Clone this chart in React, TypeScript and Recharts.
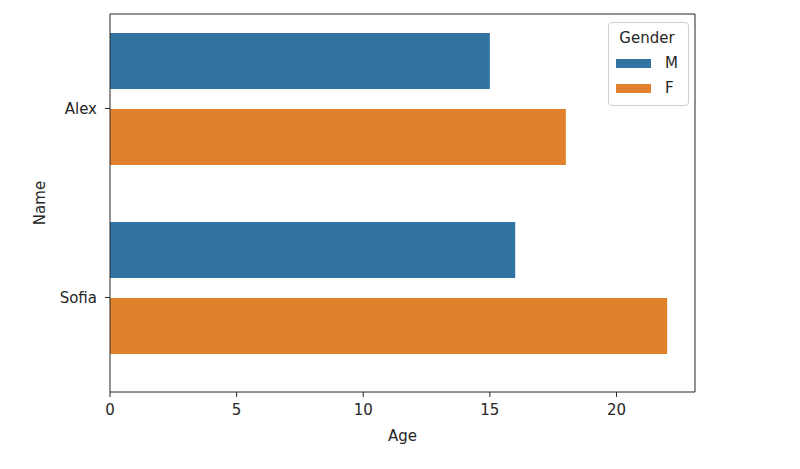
import { BarChart, Bar, XAxis, YAxis, Legend, Rectangle } from 'recharts'

const names = ['Alex', 'Sofia']
const maleAge = [15, 16]
const femaleAge = [18, 22]
const xTicks = [0, 5, 10, 15, 20]
const genders = ['M', 'F']

const BLUE = '#3274a1'
const ORANGE = '#e1812c'
const INK = '#262626'
const FONT = '"DejaVu Sans", sans-serif'
const FS = 15

const colors: Record<string, string> = { M: BLUE, F: ORANGE }
const data = names.map((name, i) => ({ name, M: maleAge[i], F: femaleAge[i] }))

// seaborn sits the dodged pair a little above the category tick
const BAR_SHIFT = -10
const Shifted = (props: any) => <Rectangle {...props} y={props.y + BAR_SHIFT} />

function GenderLegend() {
  return (
    <div style={{
      border: '1px solid #d0d0d0', borderRadius: 4, background: 'rgba(255,255,255,0.8)',
      padding: '3px 10px 4px 7px', fontFamily: FONT, fontSize: FS, color: INK, lineHeight: '25px',
    }}>
      <div style={{ textAlign: 'center' }}>Gender</div>
      {genders.map(g => (
        <div key={g} style={{ display: 'flex', alignItems: 'center' }}>
          <span style={{ display: 'inline-block', width: 35, height: 9, background: colors[g], marginRight: 14 }} />
          <span>{g}</span>
        </div>
      ))}
    </div>
  )
}

const NameLabel = (props: any) => {
  const vb = props.viewBox
  const x = vb.x + 10
  const y = vb.y + vb.height / 2
  return (
    <text x={x} y={y} transform={`rotate(-90 ${x} ${y})`} textAnchor="middle" dominantBaseline="central"
      fill={INK} fontFamily={FONT} fontSize={FS}>Name</text>
  )
}

export default function App() {
  const tickStyle = { fill: INK, fontFamily: FONT, fontSize: FS }
  return (
    <div style={{ position: 'absolute', left: 0, top: 0, width: 800, height: 469, background: '#fff' }}>
      <BarChart width={800} height={469} data={data} layout="vertical"
        margin={{ top: 14, right: 105, bottom: 47, left: 30 }}
        barCategoryGap={29} barGap={20}>
        <XAxis type="number" domain={[0, 23.1]} ticks={xTicks} allowDataOverflow
          tick={tickStyle} tickSize={5} tickMargin={7} height={30}
          axisLine={{ stroke: INK }} tickLine={{ stroke: INK }}
          label={{ value: 'Age', position: 'bottom', offset: 8, fill: INK, fontFamily: FONT, fontSize: FS }} />
        <XAxis xAxisId="frame" orientation="top" type="number" domain={[0, 23.1]} mirror
          tick={false} tickLine={false} axisLine={{ stroke: INK }} />
        <YAxis type="category" dataKey="name" width={80}
          tick={tickStyle} tickSize={5} tickMargin={8}
          axisLine={{ stroke: INK }} tickLine={{ stroke: INK }}
          label={<NameLabel />} />
        <YAxis yAxisId="frame" orientation="right" type="number" mirror
          tick={false} tickLine={false} axisLine={{ stroke: INK }} />
        <Legend layout="horizontal" verticalAlign="middle" align="center" content={<GenderLegend />}
          wrapperStyle={{ left: 608, top: 22, width: 'auto' }} />
        {genders.map(g => (
          <Bar key={g} dataKey={g} fill={colors[g]} shape={Shifted} isAnimationActive={false} />
        ))}
      </BarChart>
    </div>
  )
}
